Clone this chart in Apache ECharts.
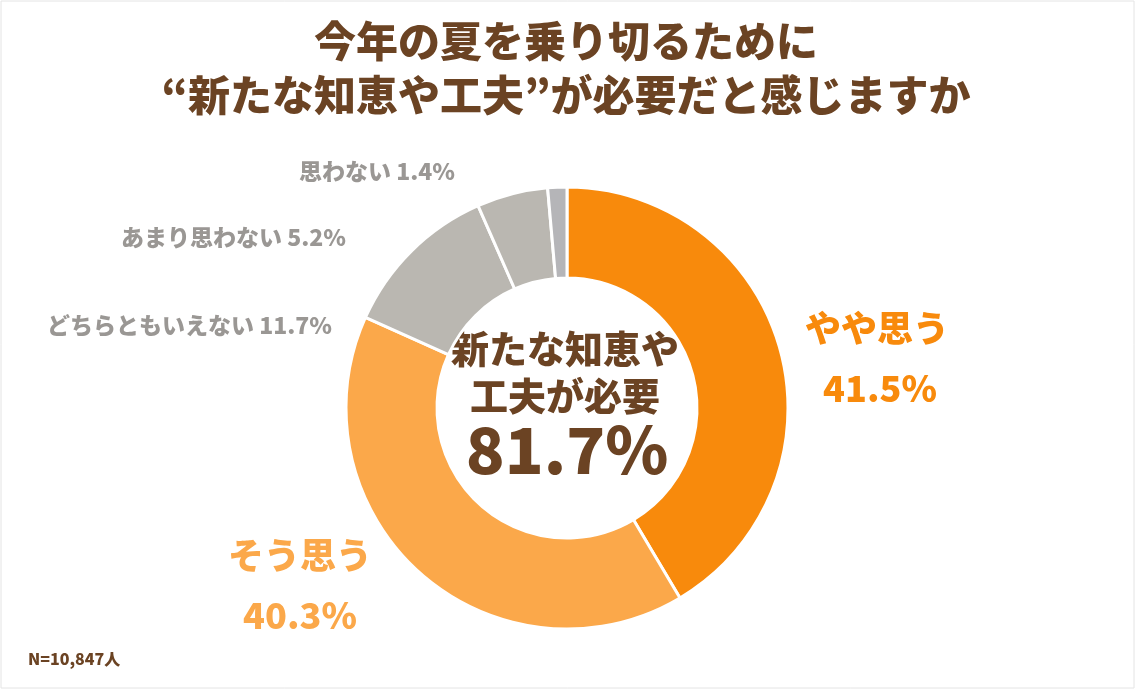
<!DOCTYPE html>
<html><head><meta charset="utf-8">
<script src="https://cdn.jsdelivr.net/npm/echarts@6/dist/echarts.min.js"></script>
<style>html,body{margin:0;padding:0;background:#fff}#c{width:1136px;height:690px}</style>
</head><body><div id="c"></div>
<script>
const categories = ['やや思う','そう思う','どちらともいえない','あまり思わない','思わない'];
const values = [41.5, 40.3, 11.7, 5.2, 1.4];
const colors = ['#F88A0C','#FBA84A','#BAB7B1','#BAB7B1','#B5B5B8'];
const centerText = ['新たな知恵や','工夫が必要','81.7%'];
const titleLines = ['今年の夏を乗り切るために','“新たな知恵や工夫”が必要だと感じますか'];
const note = 'N=10,847人';
const F = '"Noto Sans CJK JP","Noto Sans",sans-serif';
const chart = echarts.init(document.getElementById('c'));
const gray = '#9A9794';
chart.setOption({
  animation:false,
  graphic:[
    {type:'rect',shape:{x:1,y:1,width:1133,height:687},style:{fill:'none',stroke:'#e4e4e4',lineWidth:1}},
    {type:'text',x:566,y:20,style:{text:titleLines[0],fill:'#6B4323',font:`900 42px ${F}`,align:'center'}},
    {type:'text',x:566,y:74,style:{text:titleLines[1],fill:'#6B4323',font:`900 42px ${F}`,align:'center'}},
    {type:'text',x:565,y:330,style:{text:centerText[0],fill:'#6B4323',font:`900 38px ${F}`,align:'center'}},
    {type:'text',x:565,y:377,style:{text:centerText[1],fill:'#6B4323',font:`900 38px ${F}`,align:'center'}},
    {type:'text',x:567,y:418,style:{text:centerText[2],fill:'#6B4323',font:`900 64px ${F}`,align:'center'}},
    {type:'text',x:877,y:310,style:{text:categories[0],fill:'#F88A0C',font:`900 36px ${F}`,align:'center'}},
    {type:'text',x:880,y:370,style:{text:values[0].toFixed(1)+'%',fill:'#F88A0C',font:`900 36px ${F}`,align:'center'}},
    {type:'text',x:300,y:537,style:{text:categories[1],fill:'#FBA84A',font:`900 36px ${F}`,align:'center'}},
    {type:'text',x:300,y:597,style:{text:values[1].toFixed(1)+'%',fill:'#FBA84A',font:`900 36px ${F}`,align:'center'}},
    {type:'text',x:332,y:314,style:{text:categories[2]+' '+values[2].toFixed(1)+'%',fill:gray,font:`900 23px ${F}`,align:'right'}},
    {type:'text',x:346,y:226,style:{text:categories[3]+' '+values[3].toFixed(1)+'%',fill:gray,font:`900 23px ${F}`,align:'right'}},
    {type:'text',x:455,y:160,style:{text:categories[4]+' '+values[4].toFixed(1)+'%',fill:gray,font:`900 23px ${F}`,align:'right'}},
    {type:'text',x:28,y:651,style:{text:note,fill:'#6B4323',font:`900 16px ${F}`}}
  ],
  series:[{
    type:'pie', center:[567,408], radius:[130,221], startAngle:90, clockwise:true,
    label:{show:false}, labelLine:{show:false}, silent:true,
    itemStyle:{borderColor:'#fff',borderWidth:3},
    data:categories.map((n,i)=>({name:n,value:values[i],itemStyle:{color:colors[i]}}))
  }]
});
</script></body></html>
